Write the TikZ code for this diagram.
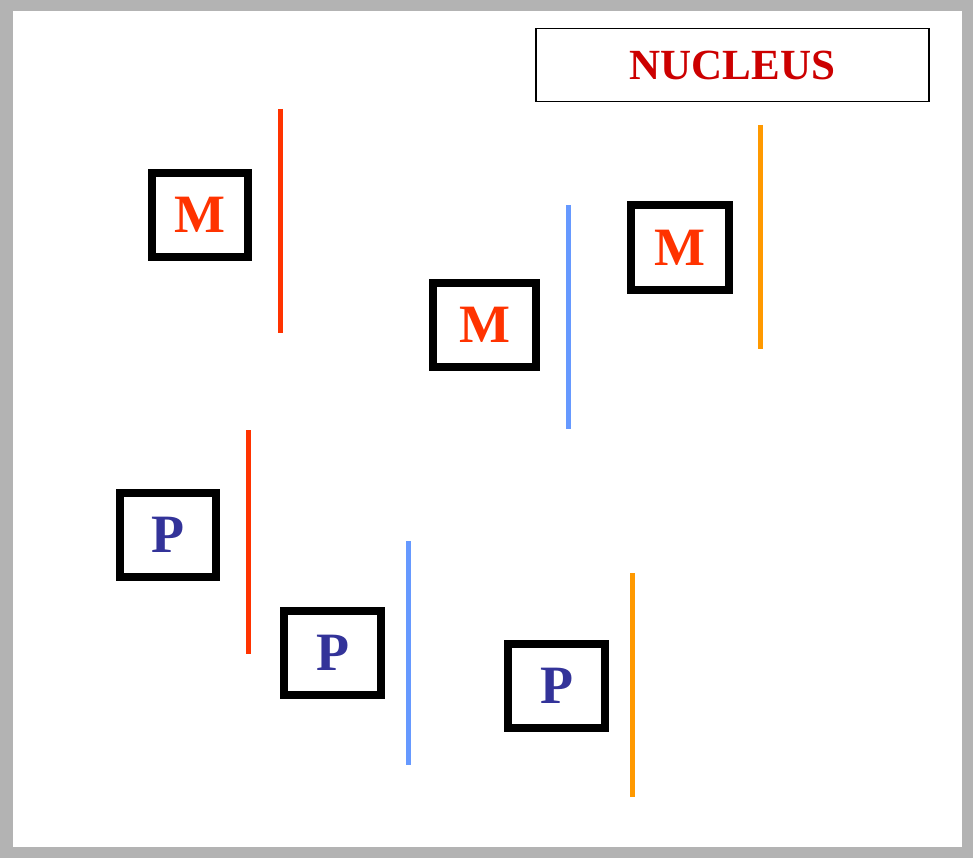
\documentclass[tikz,border=0pt]{standalone}
\usepackage{fontspec}
\setmainfont{Liberation Serif}
\usepackage{xcolor}
\definecolor{nucred}{RGB}{204,0,0}
\definecolor{mred}{RGB}{255,51,0}
\definecolor{pblue}{RGB}{51,51,153}
\definecolor{lblue}{RGB}{102,153,255}
\definecolor{lorange}{RGB}{255,153,0}
\definecolor{framegray}{RGB}{179,179,179}
\tikzset{
  genebox/.style={draw=black, line width=8pt, minimum width=97pt, minimum height=84pt, inner sep=0pt, font=\fontsize{54}{54}\selectfont\bfseries},
  mbox/.style={genebox, text=mred},
  pbox/.style={genebox, text=pblue},
  bar/.style={line width=5pt}
}
\begin{document}
\begin{tikzpicture}[x=1pt, y=-1pt]
  \useasboundingbox (0,0) rectangle (973,858);
  % frame
  \fill[framegray] (0,0) rectangle (973,858);
  \fill[white] (13,11) rectangle (962,847);
  % label
  \node[draw=black, line width=1.5pt, minimum width=393pt, minimum height=73pt, text=nucred,
        font=\fontsize{43}{43}\selectfont\bfseries] (nucleus) at (732.5,65) {NUCLEUS};
  % boxes
  \node[mbox, minimum width=96pt] (m1) at (200,215) {M};
  \node[mbox, minimum width=103pt] (m2) at (484.5,325) {M};
  \node[mbox, minimum width=98pt] (m3) at (680,247.5) {M};
  \node[pbox, minimum width=96pt] (p1) at (168,535) {P};
  \node[pbox] (p2) at (332.5,653) {P};
  \node[pbox] (p3) at (556.5,685.5) {P};
  % bars
  \foreach \x/\y/\c in {280/109/mred, 568/205/lblue, 760/125/lorange,
                        248/430/mred, 408/541/lblue, 632/573/lorange} {
    \draw[bar, \c] (\x,\y) -- ++(0,224);
  }
\end{tikzpicture}
\end{document}
